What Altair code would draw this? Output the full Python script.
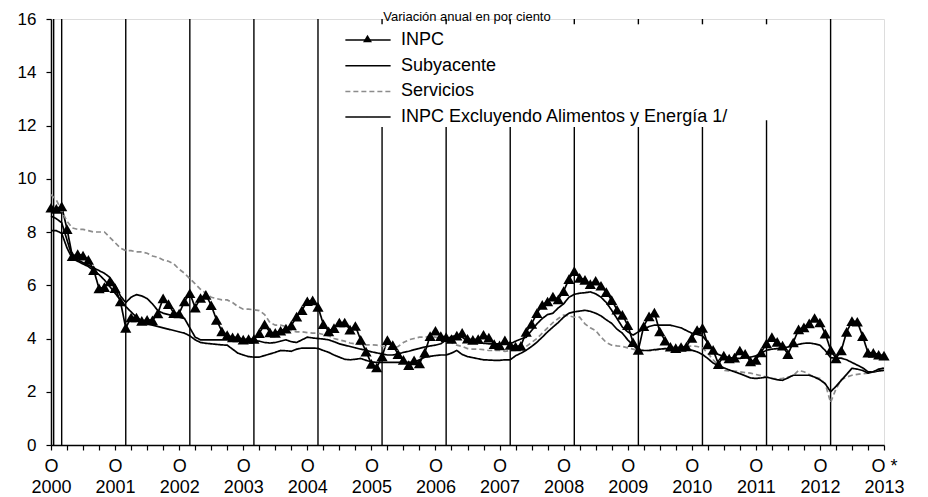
import altair as alt
import pandas as pd

# Months counted from Oct 2000 (t=0) to Oct 2013 (t=156)
SERIES = ["INPC", "Subyacente", "Servicios", "INPC Excluyendo Alimentos y Energía 1/"]
TITLE = ["Variación anual en por ciento"]

INPC = [
    8.91, 8.87, 8.96,
    8.11, 7.09, 7.17, 7.11, 6.95, 6.57, 5.88, 5.93, 6.14, 5.89, 5.39, 4.40,
    4.79, 4.79, 4.66, 4.70, 4.68, 4.94, 5.51, 5.29, 4.95, 4.94, 5.39, 5.70,
    5.16, 5.52, 5.64, 5.25, 4.70, 4.27, 4.13, 4.04, 4.04, 3.96, 3.98, 3.98,
    4.20, 4.53, 4.23, 4.21, 4.29, 4.37, 4.49, 4.82, 5.06, 5.40, 5.43, 5.19,
    4.54, 4.27, 4.39, 4.60, 4.60, 4.33, 4.47, 3.95, 3.51, 3.05, 2.91, 3.33,
    3.94, 3.75, 3.41, 3.20, 3.00, 3.18, 3.06, 3.47, 4.09, 4.29, 4.09, 4.05,
    3.98, 4.11, 4.21, 3.99, 3.95, 3.98, 4.14, 4.03, 3.79, 3.74, 3.93, 3.76,
    3.70, 3.72, 4.25, 4.55, 4.95, 5.26, 5.39, 5.57, 5.47, 5.78, 6.23, 6.53,
    6.28, 6.20, 6.04, 6.17, 5.98, 5.74, 5.44, 5.08, 4.89, 4.50, 3.86, 3.57,
    4.46, 4.83, 4.97, 4.27, 3.92, 3.69, 3.64, 3.68, 3.70, 4.02, 4.32, 4.40,
    3.78, 3.57, 3.04, 3.36, 3.25, 3.28, 3.55, 3.42, 3.14, 3.20, 3.48, 3.82,
    4.05, 3.87, 3.73, 3.41, 3.85, 4.34, 4.42, 4.57, 4.77, 4.60, 4.18, 3.57,
    3.25, 3.55, 4.25, 4.65, 4.63, 4.09, 3.47, 3.46, 3.39, 3.36,
]

SUBYACENTE = [
    8.6, 8.5, 8.35,
    7.7, 7.05, 6.95, 6.85, 6.75, 6.65, 6.55, 6.45, 6.3, 6.0, 5.6, 5.35,
    5.55, 5.65, 5.6, 5.5, 5.3, 5.05, 4.95, 4.9, 4.85, 4.8, 4.75, 4.4,
    4.05, 3.95, 3.95, 3.95, 3.95, 3.95, 3.95, 3.95, 3.94, 3.93, 3.93, 3.92,
    3.9, 3.85, 3.83, 3.85, 3.9, 3.95, 3.88, 3.85, 3.95, 4.05, 4.02, 4.0,
    3.98, 3.95, 3.88, 3.8, 3.75, 3.7, 3.65, 3.6, 3.56, 3.5, 3.46, 3.42,
    3.38, 3.38, 3.42, 3.48, 3.52, 3.58, 3.63, 3.68, 3.72, 3.75, 3.8, 3.95,
    4.08, 4.1, 4.05, 3.9, 3.86, 3.84, 3.82, 3.8, 3.8, 3.8, 3.8, 3.8,
    3.9, 3.98, 4.05, 4.3, 4.55, 4.75, 4.9, 4.95, 5.15, 5.3, 5.55, 5.66,
    5.7, 5.72, 5.75, 5.68, 5.55, 5.35, 5.06, 4.75, 4.43, 4.25, 4.13, 4.25,
    4.35, 4.45, 4.5, 4.5, 4.5, 4.5, 4.45, 4.4, 4.3, 4.2, 4.15, 4.1,
    3.85, 3.5, 3.4, 3.32, 3.28, 3.26, 3.25, 3.28, 3.3, 3.35, 3.45, 3.56,
    3.6, 3.62, 3.65, 3.68, 3.72, 3.78, 3.82, 3.83, 3.8, 3.75, 3.55, 3.28,
    3.26, 3.26, 3.2, 3.1, 3.0, 2.9, 2.75, 2.74, 2.78, 2.8,
]

SERVICIOS = [
    9.4, 9.2, 8.8,
    8.4, 8.15, 8.1, 8.1, 8.05, 8.0, 8.0, 8.0, 7.8, 7.6, 7.4, 7.3,
    7.3, 7.25, 7.25, 7.2, 7.1, 7.05, 6.95, 6.9, 6.8, 6.6, 6.45, 6.25,
    6.05, 5.85, 5.7, 5.55, 5.5, 5.45, 5.45, 5.35, 5.2, 5.1, 5.1, 5.08,
    5.05, 4.9, 4.6, 4.5, 4.5, 4.45, 4.3, 4.25, 4.25, 4.22, 4.2, 4.2,
    4.15, 4.1, 4.0, 3.95, 3.9, 3.83, 3.8, 3.78, 3.76, 3.76, 3.75, 3.72,
    3.65, 3.62, 3.7, 3.85, 3.95, 4.0, 4.05, 4.05, 4.08, 4.05, 4.0, 3.95,
    3.85, 3.75, 3.7, 3.62, 3.6, 3.6, 3.58, 3.55, 3.55, 3.55, 3.52, 3.55,
    3.55, 3.6, 3.7, 3.85, 4.0, 4.2, 4.4, 4.6, 4.75, 4.88, 4.85, 4.8,
    4.8, 4.55, 4.4, 4.3, 4.05, 3.85, 3.75, 3.72, 3.7, 3.65, 3.6, 3.55,
    3.55, 3.55, 3.55, 3.6, 3.62, 3.65, 3.65, 3.7, 3.7, 3.72, 3.7, 3.65,
    3.45, 3.2, 3.0, 2.8, 2.78, 2.78, 2.75, 2.72, 2.7, 2.65, 2.6, 2.55,
    2.5, 2.48, 2.5, 2.55, 2.6, 2.8, 2.75, 2.65, 2.55, 2.5, 2.3, 1.6,
    2.1, 2.45, 2.55, 2.62, 2.65, 2.68, 2.7, 2.75, 2.85, 2.9,
]

EXCLUYENDO = [
    8.05, 8.05, 7.95,
    7.4, 7.0, 6.9, 6.8, 6.7, 6.55, 6.4, 6.2, 5.95, 5.7, 5.45, 5.2,
    5.0, 4.8, 4.65, 4.55, 4.5, 4.45, 4.4, 4.35, 4.3, 4.25, 4.2, 4.1,
    3.95, 3.85, 3.82, 3.8, 3.78, 3.76, 3.75, 3.6, 3.45, 3.38, 3.32, 3.3,
    3.3, 3.36, 3.42, 3.48, 3.55, 3.54, 3.52, 3.6, 3.64, 3.64, 3.64, 3.63,
    3.55, 3.48, 3.38, 3.3, 3.22, 3.2, 3.22, 3.25, 3.18, 3.12, 3.1, 3.1,
    3.1, 3.1, 3.1, 3.1, 3.1, 3.12, 3.2, 3.3, 3.33, 3.36, 3.38, 3.38,
    3.45, 3.55, 3.4, 3.32, 3.28, 3.24, 3.2, 3.19, 3.18, 3.18, 3.2, 3.2,
    3.35, 3.45, 3.56, 3.7, 3.86, 4.05, 4.25, 4.43, 4.6, 4.8, 4.95, 5.0,
    5.03, 5.06, 5.02, 4.95, 4.85, 4.7, 4.57, 4.35, 4.2, 3.95, 3.75, 3.56,
    3.55, 3.55, 3.58, 3.6, 3.62, 3.6, 3.58, 3.57, 3.56, 3.56, 3.5, 3.4,
    3.25, 3.08, 2.98, 2.9, 2.82, 2.75, 2.68, 2.6, 2.52, 2.5, 2.52, 2.55,
    2.5, 2.45, 2.43, 2.52, 2.62, 2.62, 2.62, 2.62, 2.55, 2.45, 2.3, 2.0,
    2.2, 2.43, 2.65, 2.88, 2.85, 2.8, 2.7, 2.75, 2.85, 2.88,
]

# vertical reference lines (month position, bottom value, top value)
VLINE_T = [0.5, 2, 14, 26, 38, 50, 62, 62, 74, 74, 86, 86, 98, 98,
           110, 110, 122, 122, 134, 134, 146]
VLINE_Y0 = [0, 0, 0, 0, 0, 0, 0, 15.8, 0, 15.8, 0, 15.8, 0, 15.8,
            0, 15.8, 0, 15.8, 0, 15.8, 0]
VLINE_Y1 = [16, 16, 16, 16, 16, 16, 12.2, 16, 12.2, 16, 12.2, 16, 12.2, 16,
            12.2, 16, 12.2, 16, 12.2, 16, 16]
Y_TICKS = [0, 2, 4, 6, 8, 10, 12, 14, 16]
X_TICKS = list(range(0, 157, 3))

rows = []
draw_order = {"Servicios": 0, "INPC Excluyendo Alimentos y Energía 1/": 1,
              "Subyacente": 2, "INPC": 3}
for name, vals in zip(SERIES, [INPC, SUBYACENTE, SERVICIOS, EXCLUYENDO]):
    for t, v in enumerate(vals):
        rows.append({"t": t, "valor": v, "serie": name, "z": draw_order[name]})
lines_df = pd.DataFrame(rows)

points_df = pd.DataFrame({"t": list(range(len(INPC))), "valor": INPC,
                          "marca": ["INPC"] * len(INPC)})
vl_df = pd.DataFrame({"t": VLINE_T, "y0": VLINE_Y0, "y1": VLINE_Y1})
title_df = pd.DataFrame({"txt": TITLE})

FONT = "Liberation Sans"

x_scale = alt.Scale(domain=[0, 156], nice=False, zero=False)
y_scale = alt.Scale(domain=[0, 16], nice=False)

x_axis = alt.Axis(
    values=X_TICKS,
    labelExpr="datum.value % 12 == 0 ? [datum.value == 156 ? 'O *' : 'O', '' + (2000 + datum.value / 12)] : ''",
    title=None, grid=False, domainColor="black", domainWidth=1.5,
    tickColor="black", tickSize=5, tickWidth=1.2,
    labelFontSize=18, labelColor="black", labelFont=FONT,
    labelLineHeight=21, labelPadding=7, labelFlush=False,
    labelOverlap=False, labelAngle=0, labelBaseline="top",
)
y_axis = alt.Axis(
    values=Y_TICKS, title=None, grid=False, domainColor="black",
    domainWidth=1.5, tickColor="black", tickSize=5, tickWidth=1.2,
    labelFontSize=17, labelColor="black", labelFont=FONT, labelPadding=10,
)

legend_lines = alt.Legend(
    title=None, orient="none", legendX=302, legendY=6,
    fillColor="white", padding=0, labelFontSize=18, labelFont=FONT,
    labelColor="black", symbolType="M-1.6,0L1.6,0", symbolSize=800,
    symbolStrokeWidth=1.5, rowPadding=1.7, labelOffset=18, zindex=1,
    labelLimit=600,
)

rules = alt.Chart(vl_df).mark_rule(color="black", strokeWidth=1.4).encode(
    x=alt.X("t:Q", scale=x_scale, axis=x_axis),
    y=alt.Y("y0:Q", scale=y_scale, axis=y_axis),
    y2="y1:Q",
)

lines = alt.Chart(lines_df).mark_line(strokeWidth=1.7).encode(
    x=alt.X("t:Q", scale=x_scale, axis=x_axis),
    y=alt.Y("valor:Q", scale=y_scale, axis=y_axis),
    color=alt.Color(
        "serie:N",
        scale=alt.Scale(domain=SERIES, range=["black", "black", "#8c8c8c", "black"]),
        legend=legend_lines,
    ),
    strokeDash=alt.StrokeDash(
        "serie:N",
        scale=alt.Scale(domain=SERIES, range=[[1, 0], [1, 0], [5, 3], [1, 0]]),
        legend=legend_lines,
    ),
    detail="serie:N",
    order="z:Q",
)

points = alt.Chart(points_df).mark_point(
    filled=True, size=125, color="black", fill="black", opacity=1
).encode(
    x=alt.X("t:Q", scale=x_scale, axis=x_axis),
    y=alt.Y("valor:Q", scale=y_scale, axis=y_axis),
    shape=alt.Shape(
        "marca:N",
        scale=alt.Scale(domain=["INPC"], range=["triangle-up"]),
        legend=alt.Legend(
            title=None, orient="none", legendX=311, legendY=14,
            labelExpr="''", symbolSize=80, padding=0, zindex=2,
            symbolFillColor="black", symbolStrokeColor="black",
        ),
    ),
)

title = alt.Chart(title_df).mark_text(
    fontSize=13, font=FONT, color="black", baseline="middle", align="center"
).encode(
    text="txt:N",
    x=alt.value(416),
    y=alt.value(-2),
)

chart = alt.layer(rules, lines, points, title).properties(
    width=833,
    height=426,
    padding={"left": 43, "top": 11, "right": 30, "bottom": 52},
    autosize=alt.AutoSizeParams(type="none"),
).resolve_legend(
    color="shared", strokeDash="shared"
).configure_view(stroke=None).configure(background="white")

chart.save("out.html", embed_options={"renderer": "svg", "actions": False})
